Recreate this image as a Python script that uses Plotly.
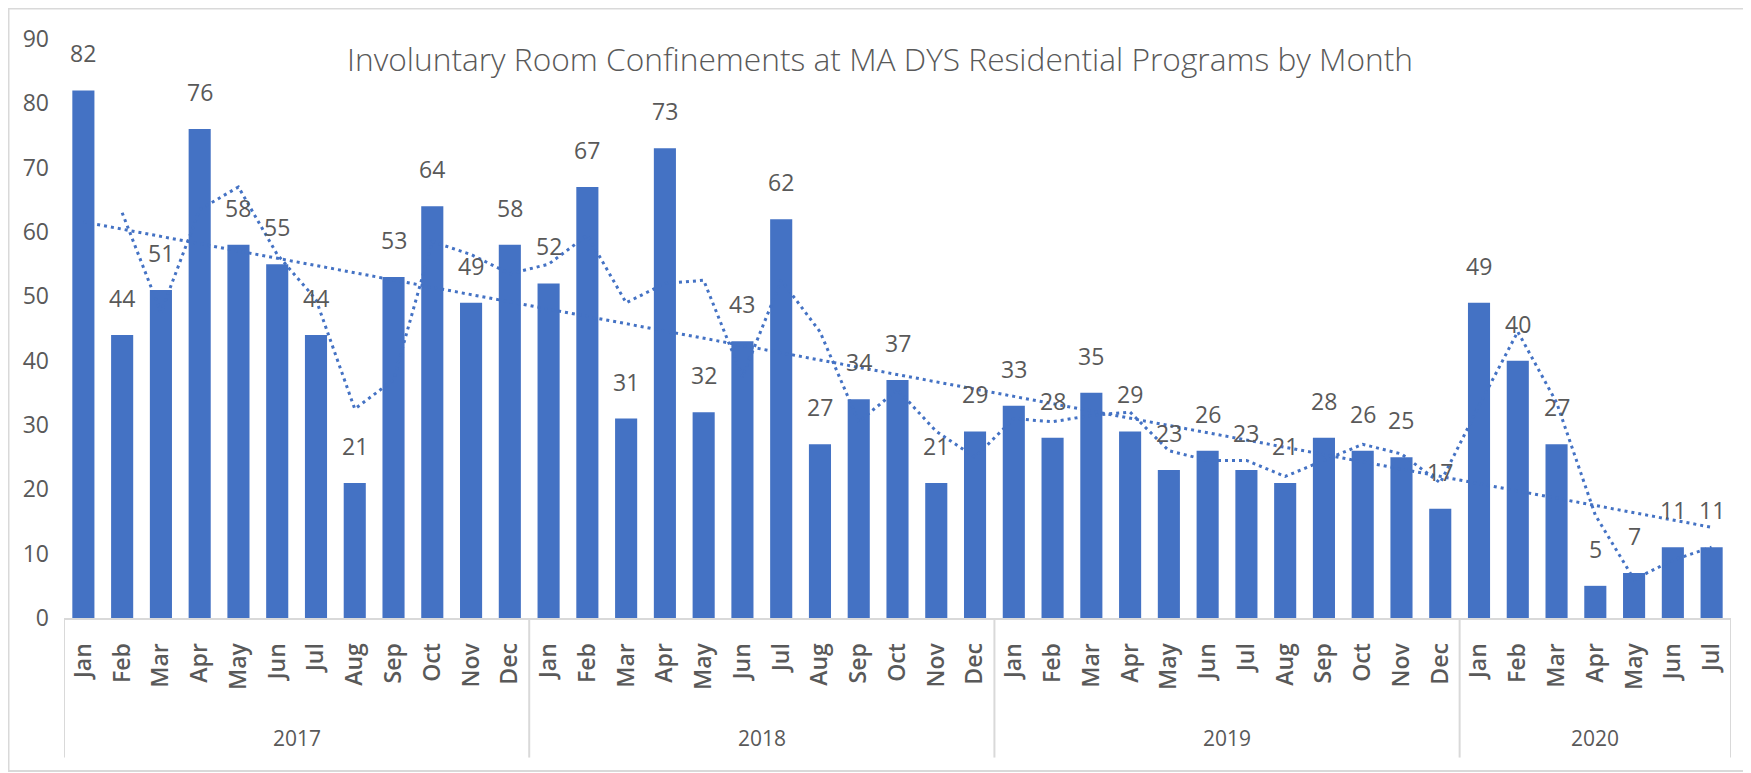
import numpy as np
import plotly.graph_objects as go

years = ["2017"] * 12 + ["2018"] * 12 + ["2019"] * 12 + ["2020"] * 7
months = (["Jan", "Feb", "Mar", "Apr", "May", "Jun", "Jul", "Aug", "Sep", "Oct", "Nov", "Dec"] * 4)[:43]
confinements = [82, 44, 51, 76, 58, 55, 44, 21, 53, 64, 49, 58,
                52, 67, 31, 73, 32, 43, 62, 27, 34, 37, 21, 29,
                33, 28, 35, 29, 23, 26, 23, 21, 28, 26, 25, 17,
                49, 40, 27, 5, 7, 11, 11]

n = len(confinements)
pos = np.arange(n)

# Excel-style trendlines: linear fit and 2-period moving average
slope, intercept = np.polyfit(pos, confinements, 1)
linear = slope * pos + intercept
moving = [None] + [(confinements[i - 1] + confinements[i]) / 2 for i in range(1, n)]

blue = "#4472C4"
grey = "#595959"
light = "#D9D9D9"
font = "Open Sans"

fig = go.Figure()
fig.add_trace(go.Bar(x=pos, y=confinements, marker_color=blue, marker_line_width=0))
dots = dict(color=blue, width=3, dash="3px,4px")
fig.add_trace(go.Scatter(x=pos, y=moving, mode="lines", line=dots, hoverinfo="skip"))
fig.add_trace(go.Scatter(x=pos, y=linear, mode="lines", line=dots, hoverinfo="skip"))

# data labels above bars
for i, v in enumerate(confinements):
    fig.add_annotation(x=i, y=v, text=str(v), showarrow=False, yanchor="bottom",
                       yshift=19, font=dict(size=23, color=grey, family=font))

# year group labels and dividers
boundaries = [-0.5] + [i - 0.5 for i in range(1, n) if years[i] != years[i - 1]] + [n - 0.5]
for a, b in zip(boundaries[:-1], boundaries[1:]):
    fig.add_annotation(x=(a + b) / 2, y=-0.207, xref="x", yref="paper", text=years[int(a + 0.5)],
                       showarrow=False, yanchor="middle", font=dict(size=21, color=grey, family=font))
for b in boundaries:
    fig.add_shape(type="line", xref="x", yref="paper", x0=b, x1=b, y0=0, y1=-0.241,
                  line=dict(color=light, width=2))

# the page body adds an 8px offset, so the figure is sized and placed to compensate
fig.update_layout(
    width=1743, height=765,
    margin=dict(l=56, r=20, t=31, b=155),
    paper_bgcolor="white", plot_bgcolor="white",
    showlegend=False, bargap=0.43,
    font=dict(family=font, color=grey),
    title=dict(
        text="Involuntary Room Confinements at MA DYS Residential Programs by Month",
        x=0.5003, xref="container", y=0.932, yref="container",
        xanchor="center", yanchor="middle",
        font=dict(size=31.7, color=grey, family=font, weight=300),
    ),
)
fig.update_xaxes(
    range=[-0.5, n - 0.5], tickmode="array", tickvals=pos, ticktext=months,
    tickangle=-90, showline=True, linecolor=light, linewidth=2, showgrid=False,
    zeroline=False, ticks="", automargin=False, ticklabelstandoff=14,
    tickfont=dict(size=23, color=grey, family=font, weight=600),
)
fig.update_yaxes(
    range=[0, 90], dtick=10, showgrid=False, zeroline=False, automargin=False,
    ticklabelstandoff=14, tickfont=dict(size=23, color=grey, family=font),
)
# outer chart border
fig.add_shape(type="rect", xref="paper", yref="paper",
              x0=-0.0333, x1=1.0114, y0=-0.2642, y1=1.0527,
              line=dict(color=light, width=2), fillcolor="rgba(0,0,0,0)")

fig.write_html("out.html")
